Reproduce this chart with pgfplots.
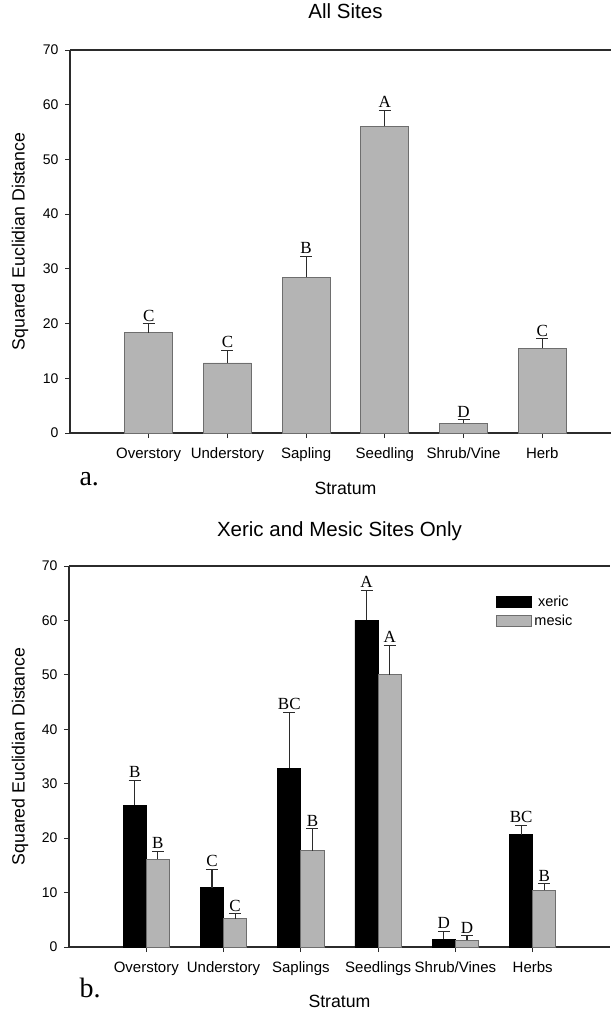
\documentclass[border=0pt]{standalone}
\usepackage{pgfplots}
\pgfplotsset{compat=1.18}
\usepackage{fontspec}
\setmainfont{Liberation Sans}
\newfontfamily\seriffont{Liberation Serif}
\definecolor{barg}{HTML}{B4B4B4}
\definecolor{barline}{HTML}{6E6E6E}
\definecolor{axc}{HTML}{2B2B2B}

\pgfplotsset{
  lab/.style={draw=none, mark=none, forget plot, nodes near coords,
    point meta=explicit symbolic,
    every node near coord/.append style={font=\seriffont\fontsize{17}{17}\selectfont,
      anchor=south, inner sep=2.4pt, text=black}},
  ebar/.style={error bars/.cd, y dir=plus, y explicit,
    error bar style={axc, line width=1.1pt},
    error mark options={rotate=90, mark size=6pt, axc, line width=1.1pt},
    /pgfplots/.cd},
  mystyle/.style={
    scale only axis,
    xmin=-1, xmax=6, ymin=0, ymax=70,
    axis y line*=left,
    axis line style={axc, line width=1.1pt, -},
    xtick={0,...,5}, ytick={0,10,...,70},
    xtick pos=left, ytick pos=left,
    tick align=outside, major tick length=5pt,
    tick style={axc, line width=1pt},
    /pgf/number format/assume math mode=true,
    yticklabel style={font=\fontsize{14}{14}\selectfont, xshift=-3pt},
    xticklabel style={font=\fontsize{15}{15}\selectfont, yshift=-6pt},
    label style={font=\fontsize{17.7}{18}\selectfont},
    title style={font=\fontsize{20.5}{21}\selectfont},
  }
}

\begin{document}
\begin{tikzpicture}
\useasboundingbox (0pt,0pt) rectangle (610pt,-1011pt);

% ---------- a. All Sites ----------
\begin{axis}[mystyle,
  at={(70pt,-433pt)}, anchor=south west,
  width=551pt, height=383pt,
  xticklabels={Overstory,Understory,Sapling,Seedling,Shrub/Vine,Herb},
  title={All Sites},
  title style={at={(axis description cs:0.5,1.086)}, anchor=center},
  xlabel={Stratum},
  xlabel style={at={(axis description cs:0.5,-0.1436)}, anchor=center},
  ylabel={Squared Euclidian Distance},
  ylabel style={at={(axis description cs:-0.0907,0.5)}, anchor=center},
]
\addplot[ybar, bar width=0.61, fill=barg, draw=barline, line width=0.9pt, ebar]
  coordinates {(0,18.3) +- (0,1.65) (1,12.8) +- (0,2.3) (2,28.5) +- (0,3.8)
               (3,56.1) +- (0,2.9) (4,1.8) +- (0,0.6) (5,15.5) +- (0,1.7)};
\addplot[lab] coordinates {(0,19.95) [C] (1,15.1) [C] (2,32.3) [B]
               (3,59.0) [A] (4,2.4) [D] (5,17.2) [C]};
\end{axis}

% ---------- b. Xeric and Mesic ----------
\begin{axis}[mystyle,
  at={(69pt,-947pt)}, anchor=south west,
  width=541pt, height=381pt,
  xticklabels={Overstory,Understory,Saplings,Seedlings,Shrub/Vines,Herbs},
  title={Xeric and Mesic Sites Only},
  title style={at={(axis description cs:0.5,1.076)}, anchor=center},
  xlabel={Stratum},
  xlabel style={at={(axis description cs:0.5,-0.142)}, anchor=center},
  ylabel={Squared Euclidian Distance},
  ylabel style={at={(axis description cs:-0.0906,0.5)}, anchor=center},
  legend style={at={(0.789,0.929)}, anchor=north west, draw=none, fill=none,
    font=\fontsize{14.5}{15}\selectfont, inner sep=0pt, row sep=2pt,
    nodes={inner sep=2.5pt}},
]
\addplot[ybar, bar width=0.30, bar shift=0pt, fill=black, draw=black, line width=0.9pt,
  legend image code/.code={\draw[fill=black, draw=black, line width=0.9pt] (0pt,-5.5pt) rectangle (35pt,5.5pt);}, ebar]
  coordinates {(-0.15,26.0) +- (0,4.6) (0.85,10.9) +- (0,3.4) (1.85,32.8) +- (0,10.3)
               (2.85,60.0) +- (0,5.5) (3.85,1.4) +- (0,1.5) (4.85,20.6) +- (0,1.8)};
\addlegendentry{xeric}
\addplot[ybar, bar width=0.30, bar shift=0pt, fill=barg, draw=barline, line width=0.9pt,
  legend image code/.code={\draw[fill=barg, draw=barline, line width=0.9pt] (0pt,-5.5pt) rectangle (35pt,5.5pt);}, ebar]
  coordinates {(0.15,16.1) +- (0,1.5) (1.15,5.2) +- (0,0.9) (2.15,17.65) +- (0,4.05)
               (3.15,50.0) +- (0,5.4) (4.15,1.2) +- (0,0.85) (5.15,10.4) +- (0,1.2)};
\addlegendentry{mesic}
\addplot[lab] coordinates {(-0.15,30.6) [B] (0.85,14.3) [C] (1.85,43.1) [BC]
               (2.85,65.5) [A] (3.85,2.9) [D] (4.85,22.4) [BC]};
\addplot[lab] coordinates {(0.15,17.6) [B] (1.15,6.1) [C] (2.15,21.7) [B]
               (3.15,55.4) [A] (4.15,2.05) [D] (5.15,11.6) [B]};
\end{axis}

\node[anchor=base west, font=\seriffont\fontsize{28}{28}\selectfont] at (76pt,-485pt) {a.};
\node[anchor=base west, font=\seriffont\fontsize{28}{28}\selectfont] at (76pt,-997pt) {b.};
\end{tikzpicture}
\end{document}
